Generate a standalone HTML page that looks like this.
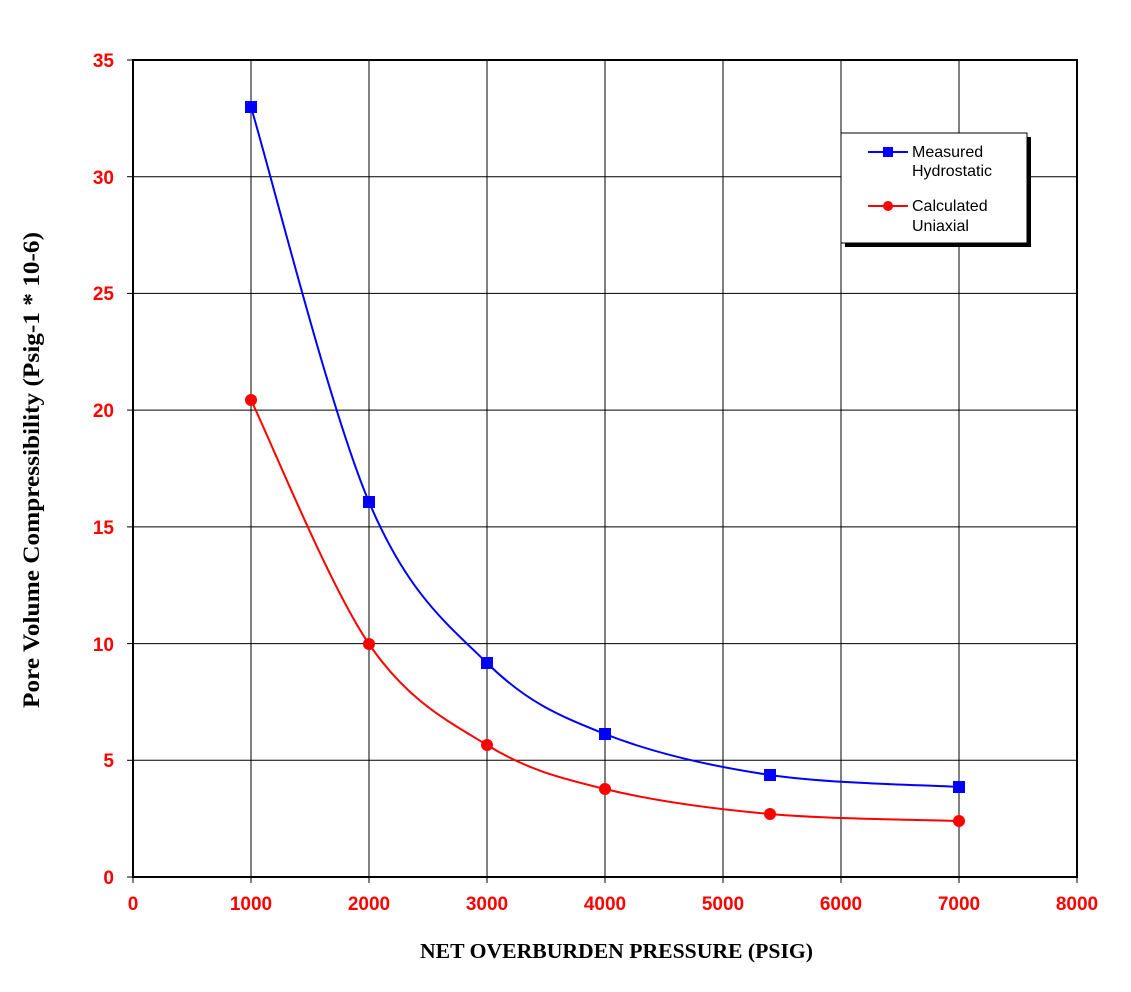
<!DOCTYPE html>
<html><head><meta charset="utf-8"><style>body{margin:0;background:#fff}</style></head><body>
<svg width="1131" height="987" xmlns="http://www.w3.org/2000/svg">
<rect width="1131" height="987" fill="#fff"/>
<g stroke="#000" stroke-width="1">
<line x1="251" y1="60" x2="251" y2="877"/><line x1="369" y1="60" x2="369" y2="877"/><line x1="487" y1="60" x2="487" y2="877"/><line x1="605" y1="60" x2="605" y2="877"/><line x1="723" y1="60" x2="723" y2="877"/><line x1="841" y1="60" x2="841" y2="877"/><line x1="959" y1="60" x2="959" y2="877"/>
<line x1="133" y1="176.7" x2="1077" y2="176.7"/><line x1="133" y1="293.4" x2="1077" y2="293.4"/><line x1="133" y1="410.1" x2="1077" y2="410.1"/><line x1="133" y1="526.9" x2="1077" y2="526.9"/><line x1="133" y1="643.6" x2="1077" y2="643.6"/><line x1="133" y1="760.3" x2="1077" y2="760.3"/>
</g>
<rect x="133" y="60" width="944" height="817" fill="none" stroke="#000" stroke-width="2"/>
<g stroke="#000" stroke-width="1">
<line x1="127" y1="60" x2="133" y2="60"/><line x1="127" y1="176.7" x2="133" y2="176.7"/><line x1="127" y1="293.4" x2="133" y2="293.4"/><line x1="127" y1="410.1" x2="133" y2="410.1"/><line x1="127" y1="526.9" x2="133" y2="526.9"/><line x1="127" y1="643.6" x2="133" y2="643.6"/><line x1="127" y1="760.3" x2="133" y2="760.3"/><line x1="127" y1="877" x2="133" y2="877"/>
<line x1="133" y1="877" x2="133" y2="883"/><line x1="251" y1="877" x2="251" y2="883"/><line x1="369" y1="877" x2="369" y2="883"/><line x1="487" y1="877" x2="487" y2="883"/><line x1="605" y1="877" x2="605" y2="883"/><line x1="723" y1="877" x2="723" y2="883"/><line x1="841" y1="877" x2="841" y2="883"/><line x1="959" y1="877" x2="959" y2="883"/><line x1="1077" y1="877" x2="1077" y2="883"/>
</g>
<g font-family="Liberation Sans, sans-serif" font-weight="bold" font-size="19" fill="#f00" text-anchor="end">
<text x="114" y="67">35</text><text x="114" y="184">30</text><text x="114" y="300">25</text><text x="114" y="417">20</text><text x="114" y="534">15</text><text x="114" y="651">10</text><text x="114" y="767">5</text><text x="114" y="884">0</text>
</g>
<g font-family="Liberation Sans, sans-serif" font-weight="bold" font-size="19" fill="#f00" text-anchor="middle">
<text x="133" y="910">0</text><text x="251" y="910">1000</text><text x="369" y="910">2000</text><text x="487" y="910">3000</text><text x="605" y="910">4000</text><text x="723" y="910">5000</text><text x="841" y="910">6000</text><text x="959" y="910">7000</text><text x="1077" y="910">8000</text>
</g>
<text x="420" y="958" font-family="Liberation Serif, serif" font-weight="bold" font-size="21" textLength="393" lengthAdjust="spacingAndGlyphs">NET OVERBURDEN PRESSURE (PSIG)</text>
<text transform="translate(39,708) rotate(-90)" font-family="Liberation Serif, serif" font-weight="bold" font-size="23" textLength="476" lengthAdjust="spacingAndGlyphs">Pore Volume Compressibility (Psig-1 * 10-6)</text>
<path d="M251,107 C270.7,172.8 329.7,409.3 369,502 C408.3,594.7 447.7,624.3 487,663 C526.3,701.7 557.8,715.3 605,734 C652.2,752.7 711,766.2 770,775 C829,783.8 927.5,785 959,787" fill="none" stroke="#00f" stroke-width="2"/>
<path d="M251,400 C270.7,440.7 329.7,586.5 369,644 C408.3,701.5 447.7,720.8 487,745 C526.3,769.2 557.8,777.5 605,789 C652.2,800.5 711,808.7 770,814 C829,819.3 927.5,819.8 959,821" fill="none" stroke="#f00" stroke-width="2"/>
<g fill="#00f">
<rect x="245" y="101" width="12" height="12"/><rect x="363" y="496" width="12" height="12"/><rect x="481" y="657" width="12" height="12"/><rect x="599" y="728" width="12" height="12"/><rect x="764" y="769" width="12" height="12"/><rect x="953" y="781" width="12" height="12"/>
</g>
<g fill="#f00">
<circle cx="251" cy="400" r="6"/><circle cx="369" cy="644" r="6"/><circle cx="487" cy="745" r="6"/><circle cx="605" cy="789" r="6"/><circle cx="770" cy="814" r="6"/><circle cx="959" cy="821" r="6"/>
</g>
<rect x="845" y="137" width="186" height="110" fill="#000"/>
<rect x="841" y="133" width="186" height="110" fill="#fff" stroke="#000" stroke-width="1"/>
<line x1="868" y1="152" x2="908" y2="152" stroke="#00f" stroke-width="2"/>
<rect x="883" y="147" width="10" height="10" fill="#00f"/>
<line x1="868" y1="206" x2="908" y2="206" stroke="#f00" stroke-width="2"/>
<circle cx="888" cy="206" r="5" fill="#f00"/>
<g font-family="Liberation Sans, sans-serif" font-size="16" fill="#000">
<text x="912" y="157">Measured</text><text x="912" y="176">Hydrostatic</text>
<text x="912" y="211">Calculated</text><text x="912" y="231">Uniaxial</text>
</g>
</svg>
</body></html>
